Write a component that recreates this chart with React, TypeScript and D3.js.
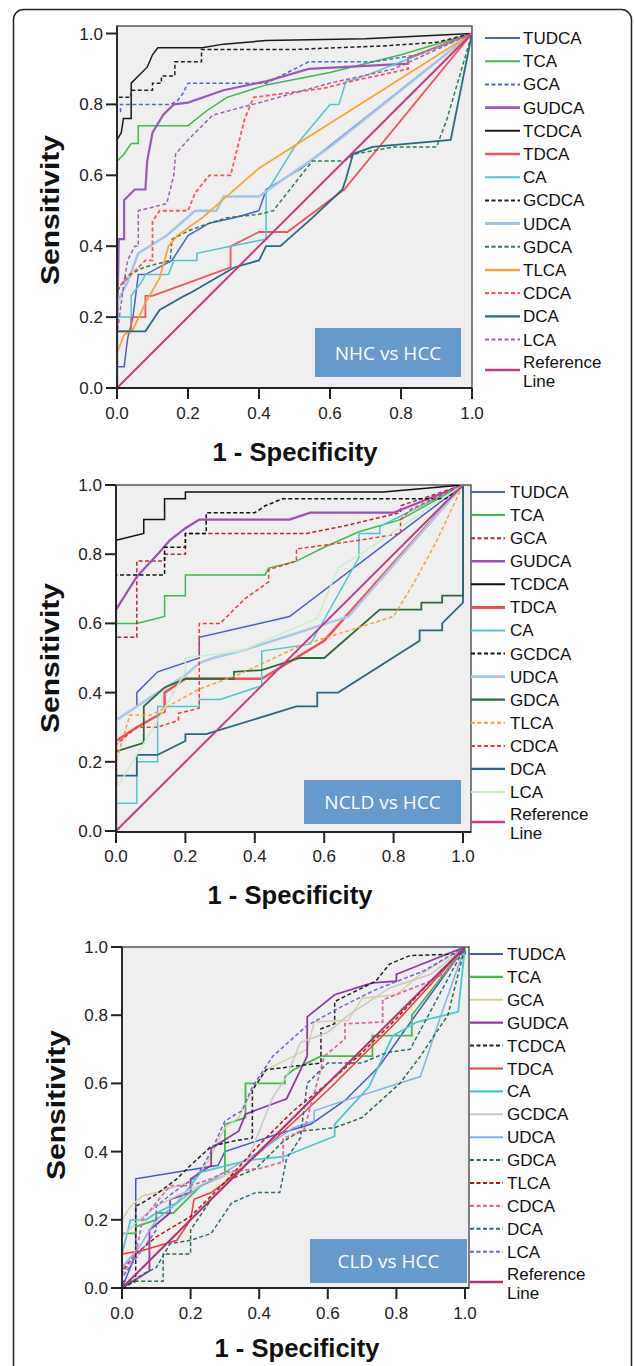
import React from "react";
import * as d3 from "d3";

type Pt = [number, number];

// biomarkers, in legend order
const markers = ["TUDCA", "TCA", "GCA", "GUDCA", "TCDCA", "TDCA", "CA", "GCDCA", "UDCA", "GDCA", "TLCA", "CDCA", "DCA", "LCA"];
const ticks = [0, 0.2, 0.4, 0.6, 0.8, 1.0];
const refLine: Pt[] = [[0, 0], [1, 1]];

// ---- NHC vs HCC ----
const nhcTUDCA: Pt[] = [[0, 0], [0, 0.06], [0.02, 0.06], [0.03, 0.14], [0.045, 0.2], [0.06, 0.32], [0.08, 0.32], [0.155, 0.36], [0.2, 0.43], [0.26, 0.465], [0.33, 0.48], [0.4, 0.5], [0.42, 0.56], [0.52, 0.62], [1, 1]];
const nhcTCA: Pt[] = [[0, 0], [0, 0.64], [0.02, 0.66], [0.04, 0.69], [0.06, 0.69], [0.06, 0.74], [0.2, 0.74], [0.25, 0.78], [0.31, 0.82], [0.42, 0.855], [0.6, 0.89], [0.8, 0.94], [1, 1]];
const nhcGCA: Pt[] = [[0, 0], [0, 0.78], [0.01, 0.78], [0.01, 0.8], [0.15, 0.8], [0.17, 0.81], [0.185, 0.83], [0.2, 0.86], [0.42, 0.86], [0.48, 0.89], [0.54, 0.92], [0.72, 0.92], [0.85, 0.94], [1, 1]];
const nhcGUDCA: Pt[] = [[0, 0], [0, 0.15], [0.005, 0.42], [0.02, 0.42], [0.02, 0.53], [0.05, 0.56], [0.08, 0.56], [0.085, 0.64], [0.1, 0.72], [0.13, 0.77], [0.16, 0.8], [0.2, 0.805], [0.3, 0.84], [0.42, 0.865], [0.54, 0.9], [0.82, 0.915], [0.82, 0.93], [1, 1]];
const nhcTCDCA: Pt[] = [[0, 0], [0, 0.7], [0.012, 0.72], [0.018, 0.76], [0.04, 0.76], [0.04, 0.86], [0.06, 0.88], [0.085, 0.905], [0.1, 0.94], [0.115, 0.96], [0.24, 0.96], [0.3, 0.97], [0.42, 0.98], [0.7, 0.985], [1, 1]];
const nhcTDCA: Pt[] = [[0, 0], [0, 0.16], [0.04, 0.16], [0.04, 0.2], [0.08, 0.2], [0.08, 0.26], [0.1, 0.26], [0.32, 0.34], [0.32, 0.4], [0.4, 0.44], [0.48, 0.44], [0.64, 0.56], [1, 1]];
const nhcCA: Pt[] = [[0, 0], [0, 0.2], [0.04, 0.2], [0.04, 0.26], [0.07, 0.3], [0.08, 0.32], [0.145, 0.32], [0.16, 0.36], [0.225, 0.36], [0.225, 0.38], [0.32, 0.4], [0.42, 0.42], [0.42, 0.55], [0.5, 0.68], [0.6, 0.8], [0.625, 0.8], [0.645, 0.865], [0.67, 0.87], [0.8, 0.92], [1, 1]];
const nhcGCDCA: Pt[] = [[0, 0], [0, 0.82], [0.04, 0.82], [0.04, 0.84], [0.1, 0.84], [0.1, 0.86], [0.125, 0.86], [0.125, 0.88], [0.163, 0.88], [0.163, 0.92], [0.238, 0.92], [0.238, 0.955], [0.5, 0.955], [0.75, 0.965], [0.9, 0.975], [1, 1]];
const nhcUDCA: Pt[] = [[0, 0], [0, 0.24], [0.03, 0.3], [0.06, 0.38], [0.14, 0.43], [0.22, 0.5], [0.28, 0.5], [0.3, 0.54], [0.4, 0.54], [0.42, 0.555], [0.6, 0.68], [1, 1]];
const nhcGDCA: Pt[] = [[0, 0], [0, 0.27], [0.025, 0.315], [0.075, 0.34], [0.15, 0.36], [0.155, 0.42], [0.205, 0.445], [0.26, 0.465], [0.31, 0.48], [0.4, 0.49], [0.44, 0.5], [0.55, 0.64], [0.64, 0.64], [0.67, 0.66], [0.78, 0.68], [0.9, 0.68], [0.93, 0.76], [1, 1]];
const nhcTLCA: Pt[] = [[0, 0], [0, 0.1], [0.02, 0.15], [0.045, 0.165], [0.08, 0.24], [0.12, 0.31], [0.145, 0.4], [0.17, 0.43], [0.24, 0.48], [0.4, 0.62], [1, 1]];
const nhcCDCA: Pt[] = [[0, 0], [0, 0.28], [0.04, 0.32], [0.08, 0.36], [0.1, 0.36], [0.1, 0.47], [0.12, 0.5], [0.2, 0.5], [0.22, 0.55], [0.26, 0.6], [0.32, 0.6], [0.345, 0.7], [0.36, 0.76], [0.385, 0.82], [0.58, 0.845], [0.66, 0.865], [0.82, 0.9], [0.82, 0.93], [1, 1]];
const nhcDCA: Pt[] = [[0, 0], [0, 0.16], [0.08, 0.16], [0.12, 0.22], [0.19, 0.26], [0.21, 0.27], [0.33, 0.34], [0.4, 0.36], [0.42, 0.4], [0.46, 0.4], [0.55, 0.48], [0.635, 0.56], [0.645, 0.59], [0.665, 0.66], [0.72, 0.68], [0.94, 0.7], [1, 1]];
const nhcLCA: Pt[] = [[0, 0], [0, 0.15], [0.02, 0.3], [0.03, 0.36], [0.05, 0.4], [0.06, 0.4], [0.06, 0.5], [0.14, 0.52], [0.16, 0.6], [0.165, 0.66], [0.2, 0.7], [0.24, 0.74], [0.27, 0.77], [0.42, 0.81], [0.6, 0.86], [0.78, 0.9], [1, 1]];

// ---- NCLD vs HCC ----
const ncldTUDCA: Pt[] = [[0, 0], [0, 0.32], [0.06, 0.36], [0.06, 0.4], [0.12, 0.46], [0.24, 0.5], [0.24, 0.56], [0.5, 0.62], [1, 1]];
const ncldTCA: Pt[] = [[0, 0], [0, 0.6], [0.06, 0.6], [0.14, 0.62], [0.14, 0.68], [0.2, 0.68], [0.2, 0.74], [0.43, 0.74], [0.44, 0.76], [0.52, 0.78], [0.6, 0.82], [0.7, 0.865], [0.82, 0.9], [1, 1]];
const ncldGCA: Pt[] = [[0, 0], [0, 0.56], [0.06, 0.56], [0.06, 0.78], [0.14, 0.78], [0.14, 0.8], [0.2, 0.8], [0.2, 0.86], [0.55, 0.86], [0.65, 0.88], [0.82, 0.92], [0.82, 0.94], [1, 1]];
const ncldGUDCA: Pt[] = [[0, 0], [0, 0.64], [0.06, 0.735], [0.12, 0.8], [0.155, 0.84], [0.2, 0.875], [0.24, 0.9], [0.5, 0.9], [0.56, 0.92], [0.8, 0.92], [1, 1]];
const ncldTCDCA: Pt[] = [[0, 0], [0, 0.84], [0.08, 0.86], [0.08, 0.9], [0.14, 0.9], [0.14, 0.96], [0.2, 0.96], [0.2, 0.98], [0.77, 0.98], [1, 1]];
const ncldTDCA: Pt[] = [[0, 0], [0, 0.26], [0.06, 0.3], [0.14, 0.345], [0.14, 0.4], [0.2, 0.44], [0.42, 0.44], [0.6, 0.55], [0.68, 0.64], [1, 1]];
const ncldCA: Pt[] = [[0, 0], [0, 0.08], [0.06, 0.08], [0.06, 0.2], [0.12, 0.2], [0.12, 0.36], [0.24, 0.36], [0.24, 0.38], [0.3, 0.38], [0.42, 0.42], [0.42, 0.52], [0.56, 0.54], [0.7, 0.79], [0.7, 0.86], [0.76, 0.86], [0.76, 0.88], [1, 1]];
const ncldGCDCA: Pt[] = [[0, 0], [0, 0.74], [0.14, 0.74], [0.14, 0.82], [0.2, 0.82], [0.2, 0.86], [0.26, 0.86], [0.26, 0.92], [0.4, 0.92], [0.43, 0.94], [0.48, 0.96], [0.95, 0.96], [1, 1]];
const ncldUDCA: Pt[] = [[0, 0], [0, 0.32], [0.06, 0.36], [0.12, 0.4], [0.2, 0.45], [0.24, 0.485], [0.28, 0.5], [0.36, 0.52], [0.67, 0.62], [1, 1]];
const ncldGDCA: Pt[] = [[0, 0], [0, 0.23], [0.08, 0.255], [0.08, 0.36], [0.14, 0.415], [0.2, 0.44], [0.34, 0.44], [0.34, 0.46], [0.42, 0.465], [0.53, 0.5], [0.6, 0.5], [0.76, 0.64], [0.88, 0.64], [0.88, 0.66], [0.94, 0.66], [0.94, 0.68], [1, 0.68], [1, 1]];
const ncldTLCA: Pt[] = [[0, 0], [0, 0.2], [0.04, 0.335], [0.1, 0.335], [0.14, 0.355], [0.24, 0.41], [0.36, 0.455], [0.53, 0.535], [0.8, 0.62], [0.86, 0.72], [0.92, 0.83], [1, 1]];
const ncldCDCA: Pt[] = [[0, 0], [0, 0.25], [0.06, 0.3], [0.12, 0.3], [0.18, 0.32], [0.18, 0.34], [0.24, 0.355], [0.24, 0.6], [0.3, 0.6], [0.37, 0.67], [0.44, 0.72], [0.44, 0.755], [0.52, 0.78], [0.52, 0.815], [0.7, 0.84], [0.82, 0.86], [0.82, 0.9], [0.85, 0.93], [1, 1]];
const ncldDCA: Pt[] = [[0, 0], [0, 0.16], [0.06, 0.16], [0.06, 0.22], [0.12, 0.22], [0.2, 0.26], [0.2, 0.28], [0.26, 0.28], [0.52, 0.36], [0.58, 0.36], [0.58, 0.4], [0.64, 0.4], [0.875, 0.55], [0.875, 0.58], [0.94, 0.58], [0.94, 0.6], [1, 0.66], [1, 1]];
const ncldLCA: Pt[] = [[0, 0], [0, 0.12], [0.06, 0.22], [0.12, 0.32], [0.2, 0.46], [0.2, 0.5], [0.36, 0.52], [0.58, 0.615], [0.64, 0.76], [0.72, 0.81], [1, 1]];

// ---- CLD vs HCC ----
const cldTUDCA: Pt[] = [[0, 0], [0.02, 0.05], [0.04, 0.1], [0.04, 0.32], [0.28, 0.36], [0.3, 0.4], [0.45, 0.45], [0.55, 0.48], [0.65, 0.55], [0.75, 0.65], [0.82, 0.75], [1, 1]];
const cldTCA: Pt[] = [[0, 0], [0, 0.16], [0.04, 0.16], [0.04, 0.18], [0.1, 0.2], [0.1, 0.22], [0.15, 0.22], [0.23, 0.3], [0.3, 0.33], [0.3, 0.48], [0.36, 0.5], [0.36, 0.6], [0.475, 0.6], [0.475, 0.62], [0.5, 0.64], [0.58, 0.68], [0.73, 0.68], [0.73, 0.74], [0.845, 0.74], [0.845, 0.8], [1, 1]];
const cldGCA: Pt[] = [[0, 0], [0, 0.2], [0.025, 0.24], [0.06, 0.27], [0.1, 0.28], [0.2, 0.31], [0.25, 0.37], [0.3, 0.47], [0.34, 0.5], [0.38, 0.58], [0.42, 0.64], [0.54, 0.7], [0.56, 0.78], [0.66, 0.785], [0.7, 0.85], [0.8, 0.86], [0.87, 0.92], [1, 1]];
const cldGUDCA: Pt[] = [[0, 0], [0.08, 0.05], [0.08, 0.17], [0.14, 0.22], [0.14, 0.26], [0.2, 0.28], [0.2, 0.32], [0.26, 0.36], [0.26, 0.41], [0.34, 0.46], [0.36, 0.51], [0.48, 0.555], [0.54, 0.68], [0.54, 0.795], [0.62, 0.86], [0.73, 0.895], [0.8, 0.9], [0.8, 0.92], [1, 1]];
const cldTCDCA: Pt[] = [[0, 0], [0.04, 0.02], [0.04, 0.24], [0.06, 0.25], [0.1, 0.275], [0.16, 0.32], [0.2, 0.36], [0.26, 0.415], [0.32, 0.43], [0.38, 0.44], [0.38, 0.58], [0.42, 0.64], [0.58, 0.66], [0.58, 0.76], [0.62, 0.775], [0.62, 0.84], [0.74, 0.9], [0.78, 0.95], [0.84, 0.975], [1, 0.98], [1, 1]];
const cldTDCA: Pt[] = [[0, 0], [0, 0.1], [0.06, 0.11], [0.16, 0.14], [0.2, 0.2], [0.21, 0.26], [0.26, 0.28], [0.3, 0.31], [0.45, 0.44], [0.6, 0.58], [0.8, 0.78], [1, 1]];
const cldCA: Pt[] = [[0, 0], [0, 0.1], [0.025, 0.2], [0.07, 0.2], [0.1, 0.22], [0.16, 0.25], [0.2, 0.3], [0.23, 0.34], [0.37, 0.375], [0.47, 0.385], [0.62, 0.445], [0.62, 0.48], [0.72, 0.59], [0.79, 0.74], [0.86, 0.78], [0.98, 0.81], [1, 1]];
const cldGCDCA: Pt[] = [[0, 0], [0, 0.15], [0.05, 0.2], [0.1, 0.24], [0.2, 0.29], [0.3, 0.33], [0.36, 0.36], [0.4, 0.46], [0.44, 0.56], [0.48, 0.62], [0.52, 0.72], [0.6, 0.75], [0.66, 0.8], [0.72, 0.84], [0.78, 0.88], [0.9, 0.92], [1, 1]];
const cldUDCA: Pt[] = [[0, 0], [0, 0.06], [0.05, 0.12], [0.1, 0.2], [0.2, 0.28], [0.3, 0.34], [0.4, 0.4], [0.5, 0.47], [0.56, 0.49], [0.56, 0.52], [0.62, 0.54], [0.87, 0.62], [0.93, 0.8], [1, 1]];
const cldGDCA: Pt[] = [[0, 0], [0, 0.02], [0.12, 0.02], [0.12, 0.1], [0.2, 0.1], [0.2, 0.17], [0.26, 0.26], [0.32, 0.32], [0.39, 0.35], [0.47, 0.43], [0.52, 0.46], [0.62, 0.47], [0.7, 0.5], [0.81, 0.6], [0.87, 0.68], [0.95, 0.8], [1, 1]];
const cldTLCA: Pt[] = [[0, 0], [0, 0.05], [0.04, 0.1], [0.1, 0.15], [0.2, 0.21], [0.3, 0.31], [0.4, 0.42], [0.5, 0.52], [0.6, 0.6], [0.7, 0.69], [0.8, 0.79], [0.9, 0.9], [1, 1]];
const cldCDCA: Pt[] = [[0, 0], [0, 0.04], [0.04, 0.1], [0.06, 0.2], [0.1, 0.25], [0.14, 0.3], [0.2, 0.3], [0.26, 0.32], [0.3, 0.34], [0.4, 0.35], [0.47, 0.37], [0.47, 0.44], [0.53, 0.46], [0.59, 0.68], [0.65, 0.73], [0.65, 0.775], [0.76, 0.78], [0.76, 0.845], [0.9, 0.9], [0.95, 0.93], [1, 1]];
const cldDCA: Pt[] = [[0, 0], [0.03, 0.02], [0.06, 0.04], [0.1, 0.06], [0.14, 0.13], [0.2, 0.14], [0.26, 0.16], [0.32, 0.25], [0.39, 0.28], [0.46, 0.28], [0.48, 0.38], [0.52, 0.44], [0.54, 0.6], [0.6, 0.66], [0.7, 0.66], [0.77, 0.69], [0.84, 0.7], [1, 1]];
const cldLCA: Pt[] = [[0, 0], [0, 0.03], [0.05, 0.1], [0.1, 0.17], [0.1, 0.24], [0.15, 0.28], [0.22, 0.33], [0.26, 0.4], [0.3, 0.49], [0.35, 0.52], [0.38, 0.59], [0.44, 0.68], [0.54, 0.77], [0.64, 0.825], [0.74, 0.875], [0.88, 0.93], [1, 1]];

type St = { c: string; d?: string; w?: number };
const DASH = "4,2.5";

const nhcStyles: St[] = [
  { c: "#4a62c4" }, { c: "#3dbb4e" }, { c: "#4a6ad0", d: DASH }, { c: "#9b59b6", w: 2.2 },
  { c: "#1a1a1a" }, { c: "#f0555f", w: 1.8 }, { c: "#4cc7cf" }, { c: "#222", d: DASH },
  { c: "#a3c6e8", w: 2.5 }, { c: "#2f7d4c", d: DASH }, { c: "#f8a630", w: 1.8 }, { c: "#f25a5a", d: DASH, w: 1.8 },
  { c: "#266b80", w: 1.8 }, { c: "#a05fb2", d: DASH },
];
const ncldStyles: St[] = [
  { c: "#4a5fc4" }, { c: "#3dbb4e" }, { c: "#b5282e", d: DASH }, { c: "#9b4fb5", w: 2.2 },
  { c: "#111" }, { c: "#f0505a", w: 2.5 }, { c: "#4cc7cf" }, { c: "#111", d: DASH },
  { c: "#a9c8ea", w: 2.5 }, { c: "#2a6a38", w: 1.8 }, { c: "#f7a135", d: DASH }, { c: "#f03a3a", d: DASH },
  { c: "#2b6680", w: 1.8 }, { c: "#c9f0c4" },
];
const cldStyles: St[] = [
  { c: "#4658c0" }, { c: "#3fbf4a", w: 1.8 }, { c: "#d8cf9c" }, { c: "#8e3a9e", w: 1.8 },
  { c: "#222", d: DASH }, { c: "#f23838" }, { c: "#48c8d0", w: 1.8 }, { c: "#c8c8c8" },
  { c: "#80b4e6" }, { c: "#2d6e3e", d: DASH }, { c: "#c01010", d: DASH }, { c: "#d66aa8", d: DASH, w: 1.8 },
  { c: "#2a6b80", d: DASH }, { c: "#6b63e0", d: DASH },
];

interface PanelCfg {
  label: string;
  curves: Pt[][];
  styles: St[];
  refColor: string;
  xr: [number, number];
  yr: [number, number];
  box: { l: number; r: number; t: number; b: number };
  leg: { x0: number; x1: number; tx: number; y: number; dy: number; refY: number };
  tag: { x: number; y: number; w: number; h: number };
  yTitle: [number, number];
  xTitle: [number, number];
}

const panels: PanelCfg[] = [
  {
    label: "NHC vs HCC",
    curves: [nhcTUDCA, nhcTCA, nhcGCA, nhcGUDCA, nhcTCDCA, nhcTDCA, nhcCA, nhcGCDCA, nhcUDCA, nhcGDCA, nhcTLCA, nhcCDCA, nhcDCA, nhcLCA],
    styles: nhcStyles, refColor: "#c23c82",
    xr: [117, 472], yr: [388, 33.5],
    box: { l: 117, r: 472, t: 26, b: 388 },
    leg: { x0: 485, x1: 520, tx: 523, y: 38, dy: 23.2, refY: 370 },
    tag: { x: 315, y: 328, w: 146, h: 49 },
    yTitle: [59, 210], xTitle: [295, 461],
  },
  {
    label: "NCLD vs HCC",
    curves: [ncldTUDCA, ncldTCA, ncldGCA, ncldGUDCA, ncldTCDCA, ncldTDCA, ncldCA, ncldGCDCA, ncldUDCA, ncldGDCA, ncldTLCA, ncldCDCA, ncldDCA, ncldLCA],
    styles: ncldStyles, refColor: "#c23c8a",
    xr: [116, 463], yr: [831, 485],
    box: { l: 116, r: 471, t: 485, b: 832 },
    leg: { x0: 471, x1: 505, tx: 510, y: 492, dy: 23.08, refY: 822 },
    tag: { x: 304, y: 780, w: 157, h: 44 },
    yTitle: [59, 658], xTitle: [290, 904],
  },
  {
    label: "CLD vs HCC",
    curves: [cldTUDCA, cldTCA, cldGCA, cldGUDCA, cldTCDCA, cldTDCA, cldCA, cldGCDCA, cldUDCA, cldGDCA, cldTLCA, cldCDCA, cldDCA, cldLCA],
    styles: cldStyles, refColor: "#b03076",
    xr: [122, 465], yr: [1288, 947],
    box: { l: 122, r: 469, t: 947, b: 1288 },
    leg: { x0: 470, x1: 503, tx: 507, y: 954, dy: 22.9, refY: 1282 },
    tag: { x: 310, y: 1239, w: 157, h: 44 },
    yTitle: [65, 1105], xTitle: [297, 1357],
  },
];

const FONT = "'Liberation Sans', Arial, sans-serif";

function Panel({ cfg, idx }: { cfg: PanelCfg; idx: number }) {
  const x = d3.scaleLinear().domain([0, 1]).range(cfg.xr);
  const y = d3.scaleLinear().domain([0, 1]).range(cfg.yr);
  const line = d3.line<Pt>().x((d) => x(d[0])).y((d) => y(d[1]));
  const { box, leg, tag } = cfg;
  const clip = `clip${idx}`;
  return (
    <g>
      <defs>
        <clipPath id={clip}>
          <rect x={box.l} y={box.t} width={box.r - box.l} height={box.b - box.t} />
        </clipPath>
      </defs>
      <rect x={box.l} y={box.t} width={box.r - box.l} height={box.b - box.t} fill="#efefef" stroke="#555" strokeWidth={1.5} />
      <g clipPath={`url(#${clip})`}>
        {cfg.curves.map((c, i) => (
          <path key={i} d={line(c) || ""} fill="none" stroke={cfg.styles[i].c}
            strokeWidth={cfg.styles[i].w ?? 1.5} strokeDasharray={cfg.styles[i].d} />
        ))}
        <path d={line(refLine) || ""} fill="none" stroke={cfg.refColor} strokeWidth={2} />
      </g>
      {/* axes */}
      <line x1={box.l} x2={box.l} y1={box.t} y2={box.b} stroke="#222" strokeWidth={1.8} />
      <line x1={box.l} x2={box.r} y1={box.b} y2={box.b} stroke="#222" strokeWidth={1.8} />
      {ticks.map((t) => (
        <g key={"y" + t}>
          <line x1={box.l - 11} x2={box.l} y1={y(t)} y2={y(t)} stroke="#222" strokeWidth={2} />
          <text x={box.l - 14} y={y(t) + 6} textAnchor="end" fontSize={17} fontFamily={FONT} fill="#222">{t.toFixed(1)}</text>
        </g>
      ))}
      {ticks.map((t) => (
        <g key={"x" + t}>
          <line x1={x(t)} x2={x(t)} y1={box.b} y2={box.b + 11} stroke="#222" strokeWidth={2} />
          <text x={x(t)} y={cfg.yr[0] + 31} textAnchor="middle" fontSize={17} fontFamily={FONT} fill="#222">{t.toFixed(1)}</text>
        </g>
      ))}
      <text x={cfg.xTitle[0]} y={cfg.xTitle[1]} textAnchor="middle" fontSize={26} fontWeight="bold" fontFamily={FONT} fill="#111"
        textLength={165} lengthAdjust="spacingAndGlyphs">1 - Specificity</text>
      <text transform={`translate(${cfg.yTitle[0]},${cfg.yTitle[1]}) rotate(-90)`} textAnchor="middle" fontSize={26} fontWeight="bold" fontFamily={FONT} fill="#111"
        textLength={150} lengthAdjust="spacingAndGlyphs">Sensitivity</text>
      {/* legend */}
      {markers.map((m, i) => {
        const ly = leg.y + i * leg.dy;
        const s = cfg.styles[i];
        return (
          <g key={m}>
            <line x1={leg.x0} x2={leg.x1} y1={ly} y2={ly} stroke={s.c} strokeWidth={(s.w ?? 1.5) + 0.5} strokeDasharray={s.d} />
            <text x={leg.tx} y={ly + 6} fontSize={17} fontFamily={FONT} fill="#111">{m}</text>
          </g>
        );
      })}
      <line x1={leg.x0} x2={leg.x1} y1={leg.refY} y2={leg.refY} stroke={cfg.refColor} strokeWidth={2.5} />
      <text x={leg.tx} y={leg.refY - 2} fontSize={17} fontFamily={FONT} fill="#111">Reference</text>
      <text x={leg.tx} y={leg.refY + 17} fontSize={17} fontFamily={FONT} fill="#111">Line</text>
      {/* tag */}
      <rect x={tag.x} y={tag.y} width={tag.w} height={tag.h} fill="#6699cc" />
      <text x={tag.x + tag.w / 2} y={tag.y + tag.h / 2 + 7} textAnchor="middle" fontSize={19} fontFamily="'Open Sans', sans-serif" fill="#fff">{cfg.label}</text>
    </g>
  );
}

export default function App() {
  return (
    <svg width={634} height={1366} style={{ position: "absolute", left: 0, top: 0, background: "#fff" }}>
      <rect x={13.5} y={9.5} width={618} height={1420} rx={10} fill="none" stroke="#222" strokeWidth={1.5} />
      {panels.map((p, i) => (
        <Panel key={p.label} cfg={p} idx={i} />
      ))}
    </svg>
  );
}
